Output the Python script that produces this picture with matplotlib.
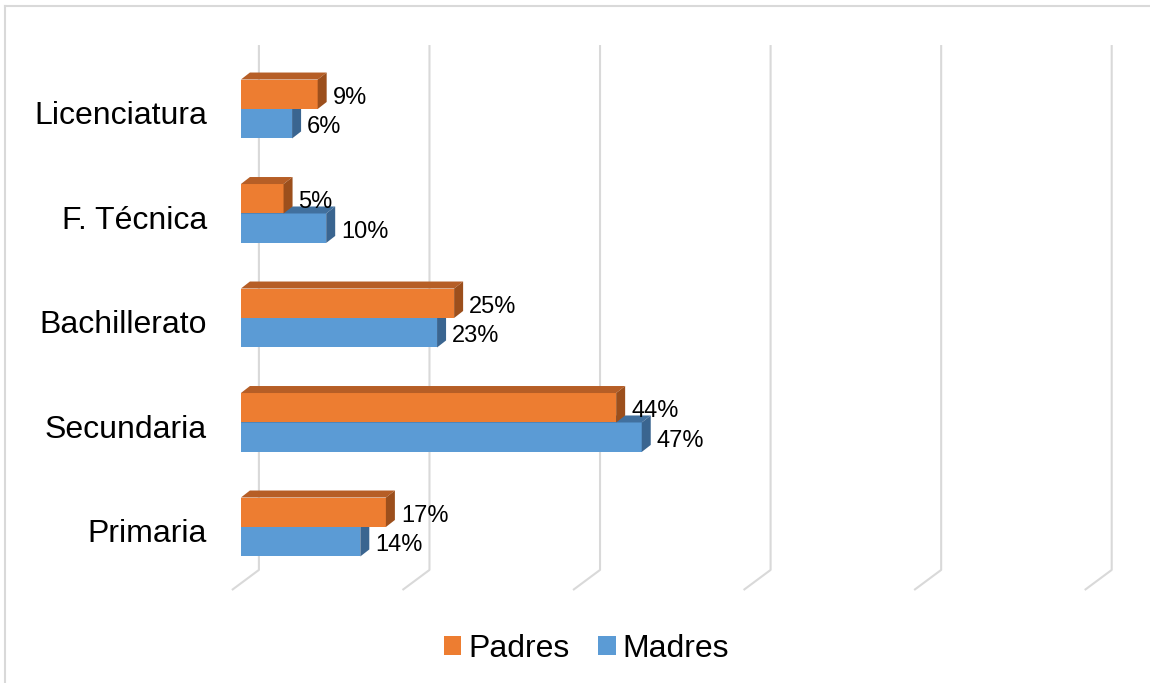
import matplotlib.pyplot as plt
from matplotlib.patches import Polygon, Rectangle, Patch
from matplotlib.lines import Line2D

plt.rcParams['font.family'] = ['Liberation Sans', 'DejaVu Sans']

categorias = ['Primaria', 'Secundaria', 'Bachillerato', 'F. Técnica', 'Licenciatura']
padres = [17, 44, 25, 5, 9]
madres = [14, 47, 23, 10, 6]
marcas = [0, 20, 40, 60, 80, 100]

naranja = ('#ED7D31', '#B65E26', '#9C4F1C')   # frente, tapa, lado
azul = ('#5B9BD5', '#41709E', '#3A6590')
gris = '#D9D9D9'

fig = plt.figure(figsize=(11.5, 6.83), dpi=100)
ax = fig.add_axes([0, 0, 1, 1])
ax.set_xlim(-28.25, 106.6)
ax.set_ylim(-1.493, 5.043)
ax.axis('off')

# profundidad de las barras y de las paredes en unidades de datos
dx, dy = 1.055, 0.067
alto = 0.282
fondo_x, fondo_y = 2.11, -0.411
frente_x, frente_y = -1.055, -0.603
techo = 4.612

# lineas de division: pared del fondo y suelo inclinado
for m in marcas:
    ax.plot([m + fondo_x, m + fondo_x, m + frente_x],
            [techo, fondo_y, frente_y], color=gris, lw=1.5, zorder=1,
            solid_capstyle='butt')


def barra(v, y0, col):
    ax.add_patch(Rectangle((0, y0), v, alto, facecolor=col[0], edgecolor='none', zorder=3))
    ax.add_patch(Polygon([(0, y0 + alto), (v, y0 + alto), (v + dx, y0 + alto + dy),
                          (dx, y0 + alto + dy)], closed=True, facecolor=col[1],
                         edgecolor='none', zorder=3))
    ax.add_patch(Polygon([(v, y0), (v + dx, y0 + dy), (v + dx, y0 + alto + dy),
                          (v, y0 + alto)], closed=True, facecolor=col[2],
                         edgecolor='none', zorder=3))
    ax.text(v + dx + 0.7, y0 + alto / 2 - 0.035, f'{v}%', fontsize=17,
            ha='left', va='center', color='#000000', zorder=5)


for i, cat in enumerate(categorias):
    barra(madres[i], i - alto, azul)
    barra(padres[i], i, naranja)
    ax.text(-4.0, i - 0.068, cat, fontsize=23, ha='right', va='center', color='#000000')

# marco del grafico
fig.add_artist(Line2D([0.0045, 1], [0.9912, 0.9912], color=gris, lw=1.5))
fig.add_artist(Line2D([0.0045, 0.0045], [0, 0.9912], color=gris, lw=1.5))

fig.legend(handles=[Patch(facecolor=naranja[0], label='Padres'),
                    Patch(facecolor=azul[0], label='Madres')],
           loc='center', bbox_to_anchor=(0.51, 0.05), ncol=2, frameon=False,
           fontsize=23, handlelength=0.55, handleheight=0.55, handletextpad=0.22,
           columnspacing=0.9)

fig.savefig('out.png', dpi=100)
